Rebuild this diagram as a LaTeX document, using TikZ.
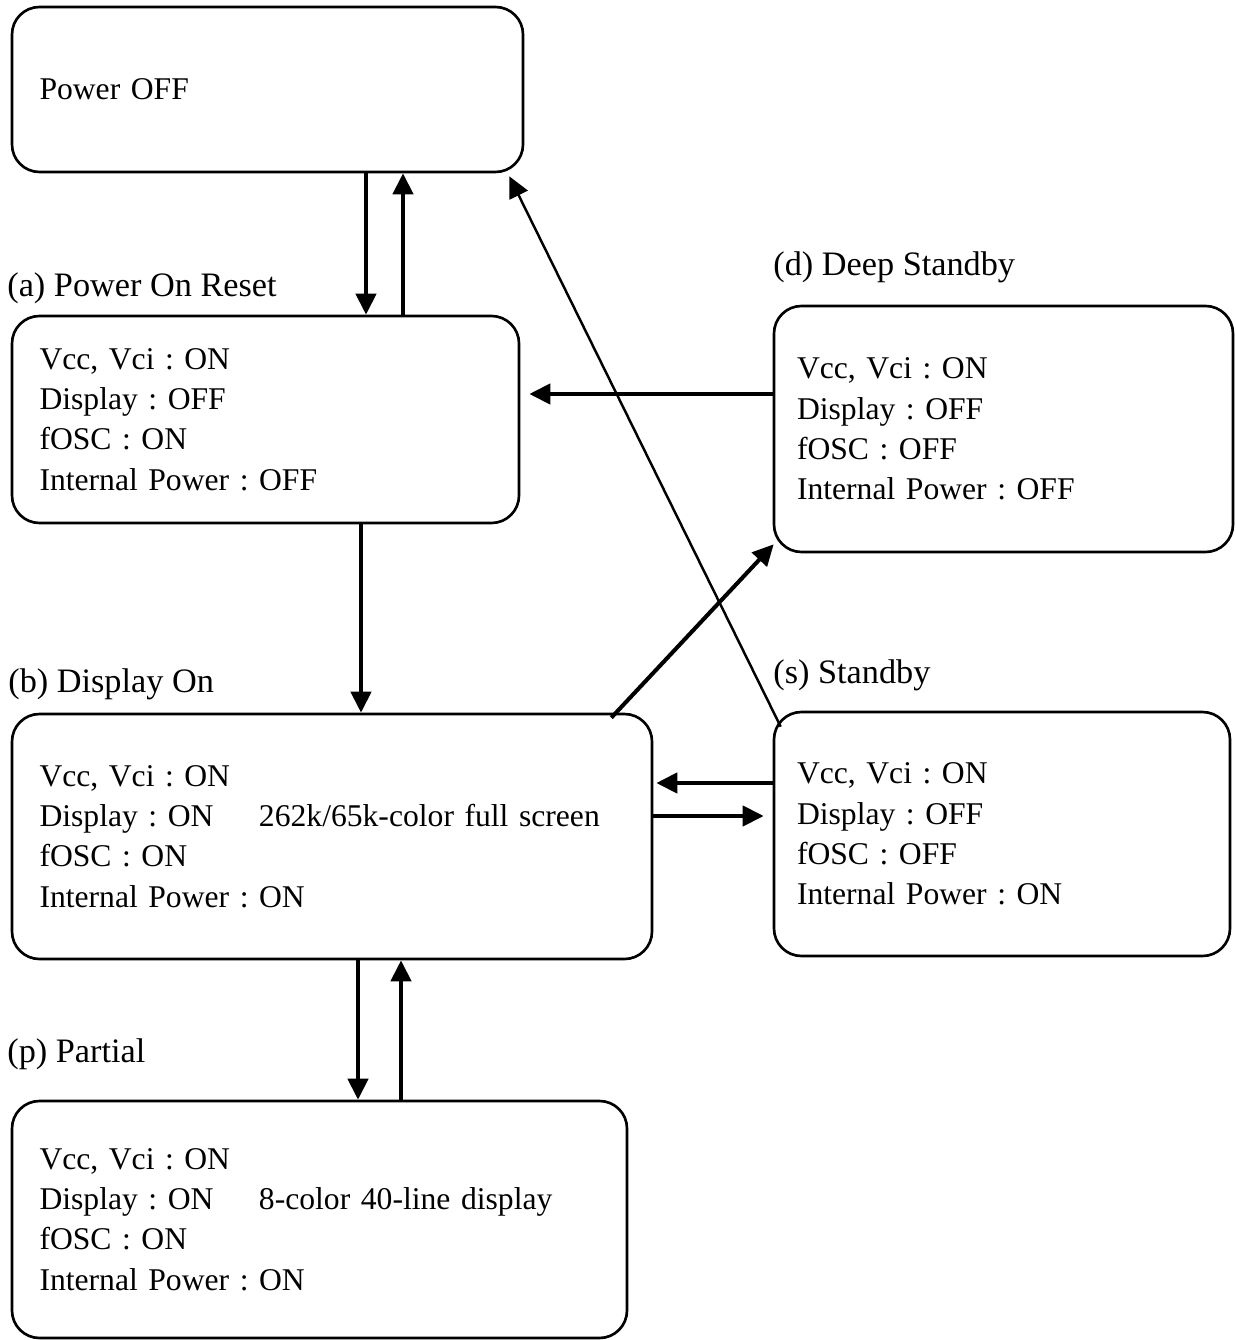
\documentclass[tikz,border=0pt]{standalone}
\usepackage{fontspec}
\setmainfont{Liberation Serif}
\usepackage{tikz}
\usetikzlibrary{arrows.meta,positioning,calc}
\frenchspacing
\newcommand{\statefont}{\fontsize{18pt}{23pt}\selectfont}
\newcommand{\tagfont}{\fontsize{19.5pt}{24pt}\selectfont}
\newcommand{\dispcol}[1]{\makebox[4.39cm][l]{#1}}

\begin{document}
\begin{tikzpicture}[
    state/.style={rectangle, rounded corners=0.55cm, draw=black,
                  line width=1.5pt, align=left, inner xsep=0.55cm,
                  font=\statefont},
    tag/.style={anchor=base west, inner sep=0pt, font=\tagfont},
    arr/.style={-{Triangle[length=12pt,width=11.5pt]}, line width=2.3pt},
    arrthin/.style={-{Triangle[length=12pt,width=11.5pt]}, line width=1.4pt}
  ]
  \useasboundingbox (0,0) rectangle (24.7,-26.8);

  \node[state, minimum width=10.22cm, text width=9.12cm, minimum height=3.30cm]
        (off) at (5.35,-1.79) {Power OFF};
  \node[state, minimum width=10.14cm, text width=9.04cm, minimum height=4.14cm]
        (a) at (5.31,-8.39) {Vcc, Vci : ON\\Display : OFF\\fOSC : ON\\Internal Power : OFF};
  \node[state, inner xsep=0.46cm, minimum width=9.18cm, text width=8.26cm, minimum height=4.92cm]
        (d) at (20.07,-8.58) {Vcc, Vci : ON\\Display : OFF\\fOSC : OFF\\Internal Power : OFF};
  \node[state, minimum width=12.8cm, text width=11.7cm, minimum height=4.90cm]
        (b) at (6.64,-16.73) {Vcc, Vci : ON\\\dispcol{Display : ON}262k/65k-color full screen\\fOSC : ON\\Internal Power : ON};
  \node[state, inner xsep=0.46cm, minimum width=9.12cm, text width=8.2cm, minimum height=4.88cm]
        (s) at (20.04,-16.68) {Vcc, Vci : ON\\Display : OFF\\fOSC : OFF\\Internal Power : ON};
  \node[state, minimum width=12.3cm, text width=11.2cm, minimum height=4.74cm]
        (p) at (6.39,-24.39) {Vcc, Vci : ON\\\dispcol{Display : ON}8-color 40-line display\\fOSC : ON\\Internal Power : ON};

  \node[tag] (atag) at (0.14,-5.94)  {(a) Power On Reset};
  \node[tag] (dtag) at (15.46,-5.52) {(d) Deep Standby};
  \node[tag] (btag) at (0.16,-13.84) {(b) Display On};
  \node[tag] (stag) at (15.46,-13.66) {(s) Standby};
  \node[tag] (ptag) at (0.14,-21.24) {(p) Partial};

  \draw[arr] ([xshift=1.97cm]off.south) -- ([xshift=1.97cm]off.south |- a.north);
  \draw[arr] ([xshift=2.71cm]off.south |- a.north) -- ([xshift=2.71cm]off.south);
  \draw[arrthin] ([shift={(0.16cm,-0.32cm)}]s.north west) -- ([shift={(-0.3cm,-0.06cm)}]off.south east);
  \draw[arr, shorten >=0.18cm] ([yshift=0.7cm]d.west) -- ([yshift=0.7cm]d.west -| a.east);
  \draw[arr] ([xshift=1.91cm]a.south) -- ([xshift=1.91cm]a.south |- b.north);
  \draw[arr] ([shift={(-0.84cm,-0.1cm)}]b.north east) -- ([shift={(0.02cm,0.18cm)}]d.south west);
  \draw[arr, shorten >=0.06cm] ([yshift=1.02cm]s.west) -- ([yshift=1.02cm]s.west -| b.east);
  \draw[arr, shorten >=0.18cm] ([yshift=0.41cm]b.east) -- ([yshift=0.41cm]b.east -| s.west);
  \draw[arr] ([xshift=0.52cm]b.south) -- ([xshift=0.52cm]b.south |- p.north);
  \draw[arr] ([xshift=1.38cm]b.south |- p.north) -- ([xshift=1.38cm]b.south);
\end{tikzpicture}
\end{document}
